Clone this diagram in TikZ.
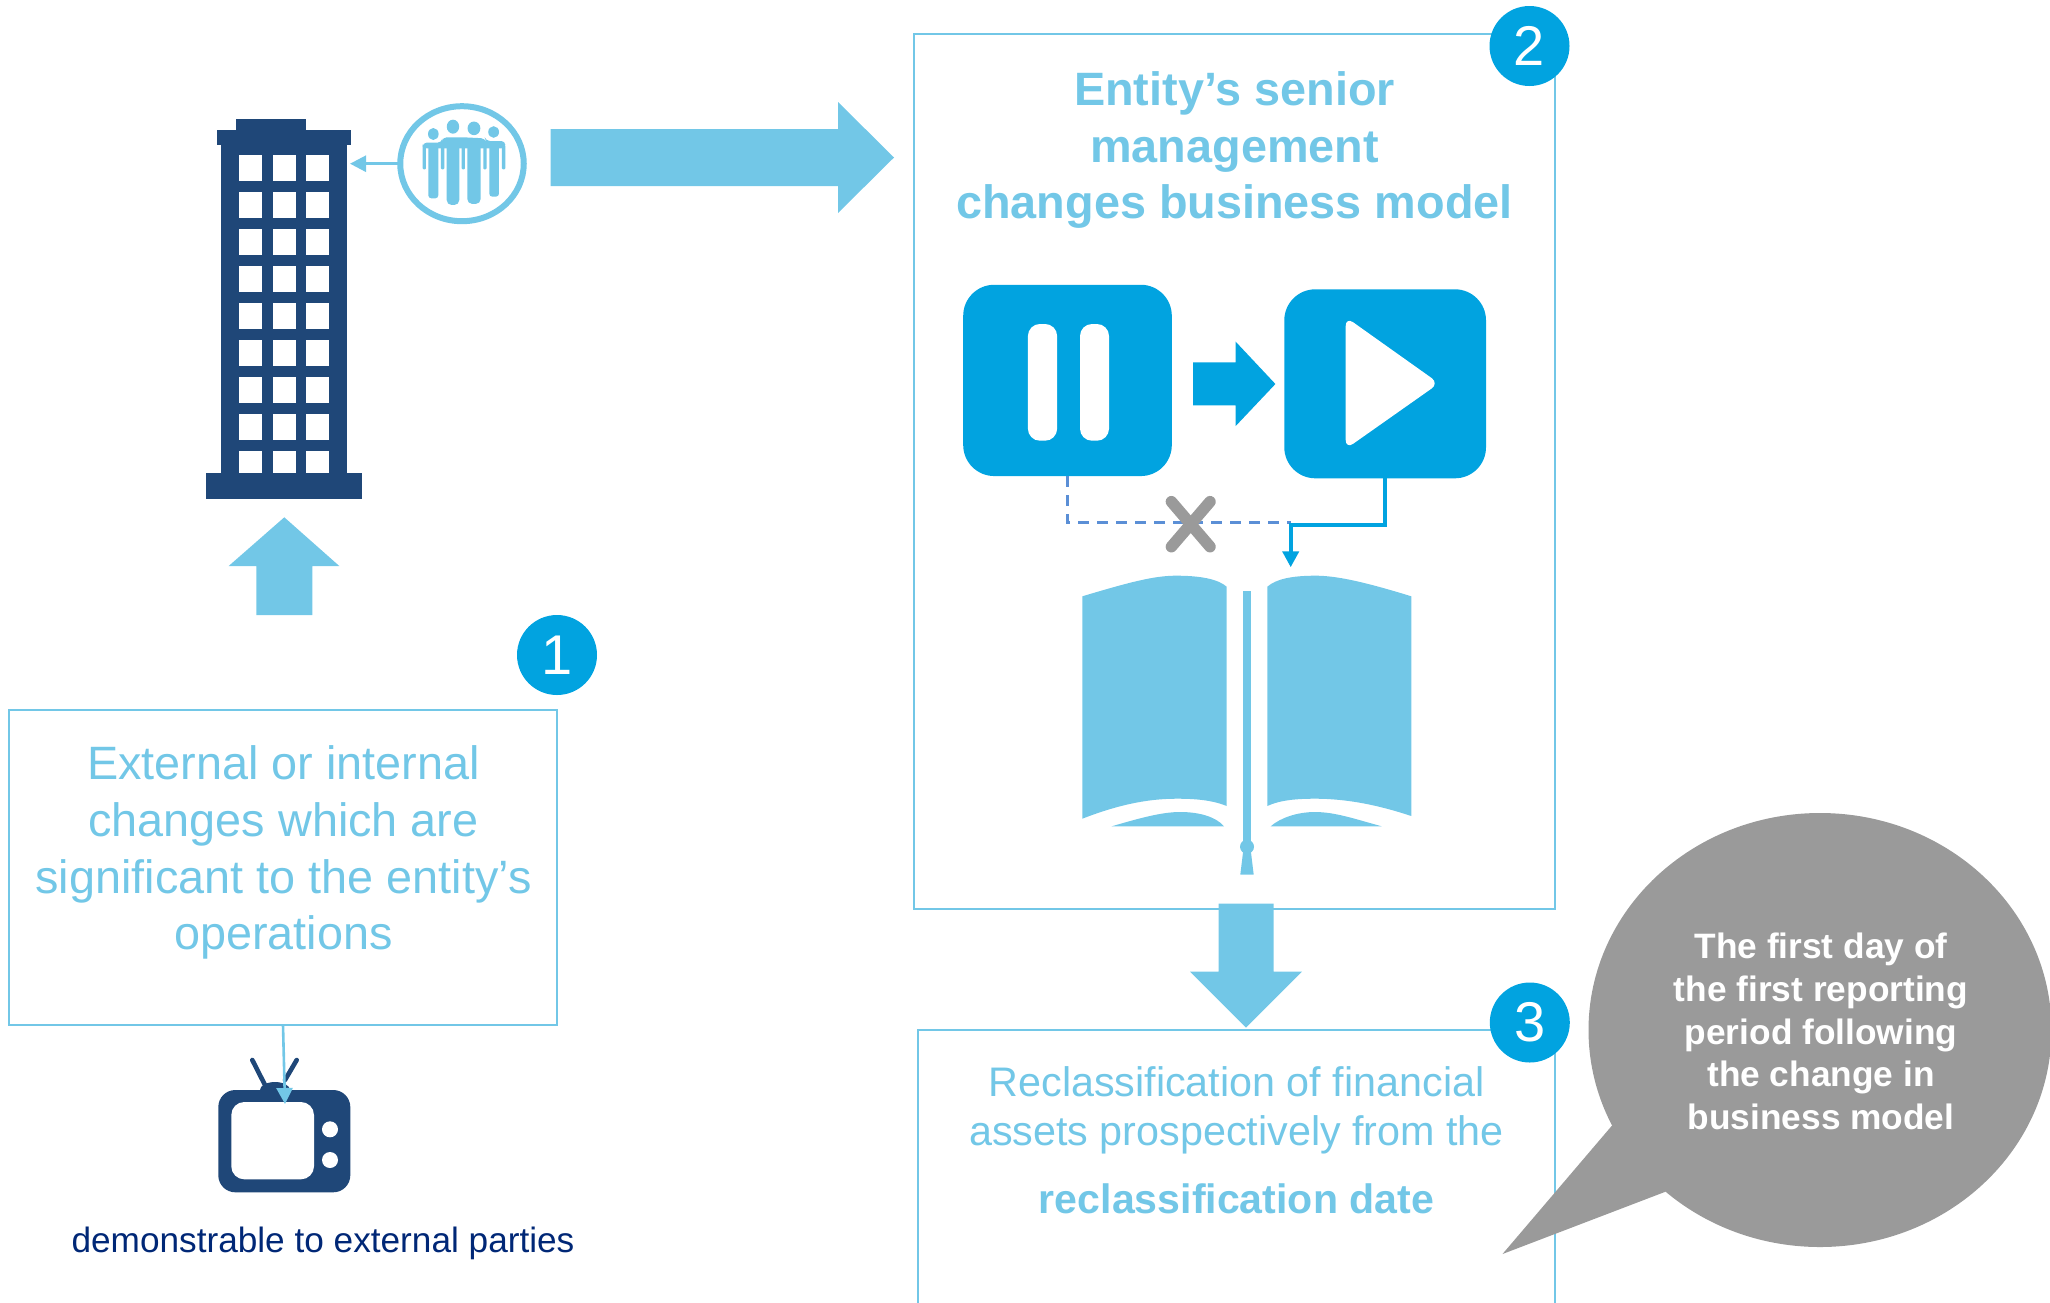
\documentclass[tikz,border=0pt]{standalone}
\usepackage{fontspec}
\setmainfont{Liberation Sans}
\usetikzlibrary{arrows.meta,shapes.geometric}
\definecolor{lblue}{HTML}{72C7E7}
\definecolor{cyanb}{HTML}{01A3E0}
\definecolor{navy}{HTML}{1F4778}
\definecolor{greyb}{HTML}{9A9A9A}
\definecolor{dashb}{HTML}{5B8FD6}
\definecolor{txtnavy}{HTML}{002776}
\tikzset{
  x=1pt,y=-1pt,
  framebox/.style={draw=lblue,line width=1.8pt,fill=none,inner sep=0pt,outer sep=0pt},
  badge/.style={circle,fill=cyanb,text=white,minimum size=80pt,inner sep=0pt,outer sep=0pt,font=\fontsize{56}{56}\selectfont},
  mediabox/.style={fill=cyanb,rounded corners=31pt,inner sep=0pt,outer sep=0pt},
  bodytext/.style={text=lblue,align=center,inner sep=0pt,font=\fontsize{46.8}{56.8}\selectfont},
  titletext/.style={text=lblue,align=center,inner sep=0pt,font=\fontsize{46.8}{56.5}\selectfont\bfseries},
  smalltext/.style={text=lblue,align=center,inner sep=0pt,font=\fontsize{41.3}{49.4}\selectfont},
  bubtext/.style={text=white,align=center,inner sep=0pt,font=\fontsize{35.3}{42.6}\selectfont\bfseries},
  thinarrow/.style={draw=lblue,line width=2.6pt,-{Triangle[width=16pt,length=16pt]}},
  solidconn/.style={draw=cyanb,line width=4pt,-{Triangle[width=16pt,length=16pt]}},
  dashconn/.style={draw=dashb,line width=2.8pt,dash pattern=on 11pt off 8pt},
  crossline/.style={draw=greyb,line width=11.5pt,line cap=round},
  tvant/.style={draw=navy,line width=4.6pt,line cap=round},
}
\begin{document}
\begin{tikzpicture}
\useasboundingbox (0,0) rectangle (2050,1302);
\clip (0,0) rectangle (2050,1302);
% frames
\node[framebox,minimum width=548pt,minimum height=315pt] (box1) at (283,867.5) {};
\node[framebox,minimum width=640.5pt,minimum height=874.5pt] (box2) at (1234.5,471.5) {};
\draw[draw=lblue,line width=1.8pt] (918,1320) |- (1555,1030) -- (1555,1320);
% building
\fill[navy] (236,119) rectangle (306,131);
\fill[navy] (217,130) rectangle (351,145);
\fill[navy] (221,145) rectangle (347,474);
\fill[navy] (206,473) rectangle (361.7,498.7);
\foreach \c in {239.3,273,306}{
  \foreach \r in {155.3,192.3,229.3,266.3,303.3,340.3,377.3,414.3}{
    \fill[white] (\c,\r) rectangle ++(22.6,26);
  }
  \fill[white] (\c,451.3) rectangle ++(22.6,21.7);
}
\coordinate (bldgeast) at (350,163.7);
% people circle
\node[ellipse,draw=lblue,line width=6pt,fill=white,minimum width=123.5pt,minimum height=115pt,inner sep=0pt,outer sep=0pt] (people) at (462,163.7) {};
\begin{scope}[xshift=190pt,yshift=-90pt,x=0.3333pt,y=-0.3333pt]
  \fill[lblue] (730,132) ellipse [x radius=5.3pt,y radius=6pt];
  \fill[lblue] (789,110) ellipse [x radius=6.2pt,y radius=7pt];
  \fill[lblue] (852,115) ellipse [x radius=6.4pt,y radius=6.8pt];
  \fill[lblue] (911,126) ellipse [x radius=5.4pt,y radius=5.8pt];
  \fill[lblue,rounded corners=4pt] (698,175) -- (698,158) -- (755,158) -- (758,142) -- (822,142) -- (885,145) -- (888,153) -- (946,153) -- (946,175) -- cycle;
  \fill[lblue,rounded corners=3pt] (715,160) rectangle (745,325);
  \fill[lblue,rounded corners=5pt] (770,145) rectangle (808,345);
  \fill[lblue,rounded corners=5pt] (832,145) rectangle (872,342);
  \fill[lblue,rounded corners=3pt] (898,155) rectangle (927,320);
  \foreach \a in {698,753,815,880,936}{
    \fill[lblue,rounded corners=1pt] (\a,165) rectangle ++(10,73);
  }
\end{scope}
\draw[thinarrow] (people.west) -- (bldgeast);
% big arrow
\fill[lblue] (550.5,129) -- (838,129) -- (838,102) -- (894,157.5) -- (838,213) -- (838,186) -- (550.5,186) -- cycle;
% up arrow
\fill[lblue] (284.3,517.3) -- (339.3,566) -- (312.3,566) -- (312.3,615) -- (256.3,615) -- (256.3,566) -- (228.7,566) -- cycle;
% title and media
\node[titletext] (title) at (1234.5,150) {Entity’s senior\\management\\changes business model};
\node[mediabox,minimum width=208.6pt,minimum height=191.3pt] (pause) at (1067.5,380.4) {};
\node[mediabox,minimum width=201.7pt,minimum height=189pt] (play) at (1385.15,383.8) {};
\fill[white,rounded corners=12pt] (1027.9,324) rectangle (1057.1,440.7);
\fill[white,rounded corners=12pt] (1080,324) rectangle (1109,440.7);
\fill[cyanb] (1193.2,362.3) -- (1235.7,362.3) -- (1235.7,341.7) -- (1275.4,384) -- (1235.7,426) -- (1235.7,405.3) -- (1193.2,405.3) -- cycle;
\fill[white,rounded corners=9pt] (1345.7,317) -- (1439,383.3) -- (1345.7,449) -- cycle;
% connectors
\coordinate (dashend) at (1291,522.3);
\coordinate (solidbend) at (1290.7,524.7);
\coordinate (booktip) at (1290.7,567.3);
\draw[dashconn] (pause.south) |- (dashend);
\draw[solidconn] (play.south) |- (solidbend) -- (booktip);
\draw[crossline] (1171.4,501.7) -- (1210,546.7);
\draw[crossline] (1210,501.7) -- (1171.4,546.7);
% book
\fill[lblue] (1082.3,596.3) .. controls (1130,582) and (1155,575.5) .. (1176.7,575.7) .. controls (1200,575.7) and (1218,579) .. (1226.7,586.7) -- (1226.7,806) .. controls (1212,800) and (1195,798.7) .. (1176.7,798.7) .. controls (1145,798.7) and (1115,806) .. (1082.3,818.7) -- cycle;
\fill[lblue] (1411.3,596.3) .. controls (1365,582) and (1336,575.5) .. (1315,575.7) .. controls (1292,575.7) and (1276,579) .. (1267.3,586.7) -- (1267.3,806) .. controls (1280,800) and (1297,798.7) .. (1315,798.7) .. controls (1347,798.7) and (1378,805) .. (1411.3,816) -- cycle;
\fill[lblue] (1111.7,826.3) .. controls (1140,818) and (1162,812) .. (1180,812) .. controls (1200,812) and (1216,817) .. (1224,826.3) -- cycle;
\fill[lblue] (1270.7,826.3) .. controls (1280,818) and (1297,812) .. (1315,812) .. controls (1335,812) and (1355,819) .. (1381.7,826.3) -- cycle;
\fill[lblue] (1243,591) rectangle (1251,848);
\fill[lblue] (1247,846.7) circle [radius=7pt];
\fill[lblue] (1243.3,850) -- (1250.7,850) -- (1253.7,874.7) -- (1240.3,874.7) -- cycle;
% down arrow
\fill[lblue] (1218.5,903.5) -- (1273.5,903.5) -- (1273.5,971.5) -- (1302,971.5) -- (1246,1027.6) -- (1190,971.5) -- (1218.5,971.5) -- cycle;
% texts
\node[bodytext] (t1) at (283.5,852.5) {External or internal\\changes which are\\significant to the entity’s\\operations};
\node[smalltext] (t3) at (1236.5,1110.5) {Reclassification of financial\\assets prospectively from the};
\node[text=lblue,inner sep=0pt,font=\fontsize{41.1}{49.6}\selectfont\bfseries] (t3b) at (1236.5,1199) {reclassification date};
\node[text=txtnavy,inner sep=0pt,font=\fontsize{35.2}{40}\selectfont] (t4) at (323,1243.5) {demonstrable to external parties};
% tv
\draw[tvant] (252.3,1060) -- (265,1085);
\draw[tvant] (296.7,1060) -- (285,1080);
\fill[navy] (275,1090) ellipse [x radius=15pt,y radius=8pt];
\fill[navy,rounded corners=17pt] (218.3,1090) rectangle (350.3,1192.3);
\fill[white,rounded corners=13pt] (231.3,1102) rectangle (314,1179.3);
\fill[white] (330,1129.3) circle [radius=8pt];
\fill[white] (330,1160) circle [radius=8pt];
\coordinate (tvtop) at (285,1104);
\draw[thinarrow] (box1.south) -- (tvtop);
% badges
\node[badge] (n1) at (557,655) {1};
\node[badge] (n2) at (1529.5,46) {2};
\node[badge] (n3) at (1529.8,1022.5) {3};
% bubble
\node[ellipse,fill=greyb,minimum width=463pt,minimum height=434pt,inner sep=0pt,outer sep=0pt] (bubble) at (1820,1030) {};
\fill[greyb] (1611.6,1126) -- (1502.5,1254) -- (1665.5,1191.7) -- (1700,1100) -- cycle;
\node[bubtext] (bubt) at (1821,1031.5) {The first day of\\the first reporting\\period following\\the change in\\business model};
\end{tikzpicture}
\end{document}
